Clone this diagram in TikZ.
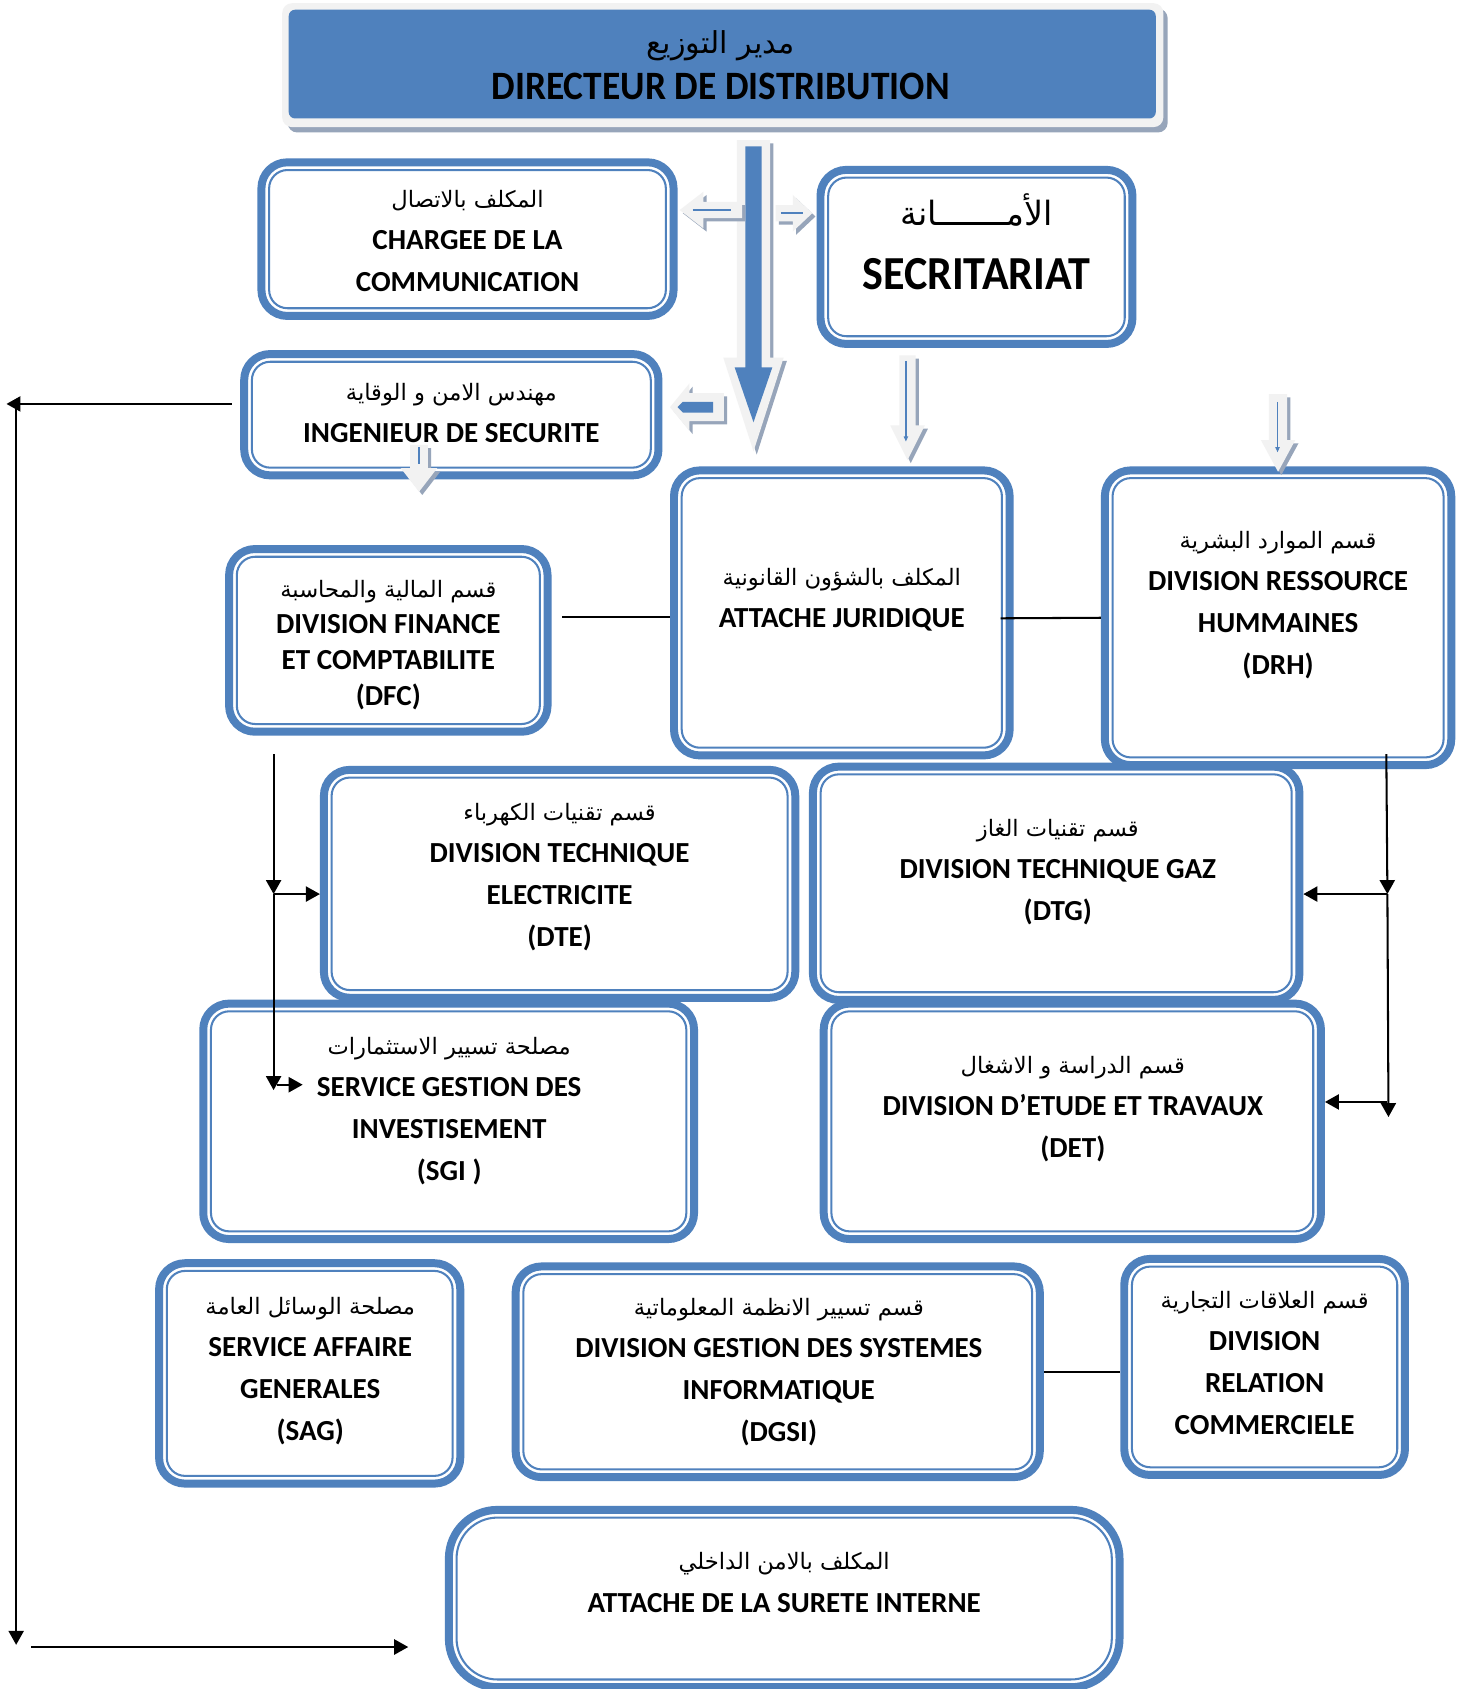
\documentclass[tikz,border=0pt]{standalone}
\usepackage{fontspec}
\usetikzlibrary{arrows.meta}
\setmainfont{Carlito}
\newfontfamily\condfont{Carlito}[FakeStretch=0.93]
\newfontfamily\arabicfont[Script=Arabic]{DejaVu Sans}
\TeXXeTstate=1

\definecolor{obBlue}{HTML}{4F81BD}
\definecolor{arLight}{HTML}{F2F2F2}
\definecolor{arShade}{HTML}{97A5BA}

% one Arabic line, set right to left
\newcommand\arline[2][21pt]{{\arabicfont\mdseries\fontsize{#1}{39pt}\selectfont\beginR #2\endR}}
% invisible strut: every text line gets the same height and depth
\newcommand\lnst[2]{\rule[-#2]{0pt}{\dimexpr#1+#2\relax}}
\newcommand\ls{\lnst{20pt}{8pt}}

% horizontal block arrow: tip x, axis y, head base x, head half, body half, tail x
\newcommand\shapeh[6]{(#1,#2) -- (#3,{#2-#4}) -- (#3,{#2-#5}) -- (#6,{#2-#5}) -- (#6,{#2+#5}) -- (#3,{#2+#5}) -- (#3,{#2+#4}) -- cycle}
% vertical block arrow: axis x, top y, shaft half, head base y, head half, tip y
\newcommand\shapev[6]{({#1-#3},#2) -- ({#1+#3},#2) -- ({#1+#3},#4) -- ({#1+#5},#4) -- (#1,#6) -- ({#1-#5},#4) -- ({#1-#3},#4) -- cycle}

% framed unit: name, left, top, right, bottom (outer edges)
\newcommand\orgframe[5]{%
  \node[unitframe={24pt}{17pt}, minimum width={#4-#2-7.4}, minimum height={#5-#3-7.4}]
    (#1) at ({(#2+#4)/2},{(#3+#5)/2}) {};}
% text of a unit: name, centre x, centre y, lines
\newcommand\orgtext[4]{\node[unittext] (#1-t) at (#2,{#3+3.5}) {#4};}

\begin{document}
\begin{tikzpicture}[x=1pt,y=-1pt,
  unitframe/.style 2 args={draw=obBlue, line width=7.4pt, rounded corners=#1, fill=white, inner sep=0pt,
    path picture={\draw[obBlue, line width=1.9pt, rounded corners=#2]
      ([shift={(7.15pt,-7.15pt)}]path picture bounding box.north west) rectangle
      ([shift={(-7.15pt,7.15pt)}]path picture bounding box.south east);}},
  unittext/.style={align=center, inner sep=0pt, font=\bfseries\fontsize{27pt}{39pt}\selectfont},
  conn/.style={line width=1.9pt, black},
  tipA/.style={-{Triangle[length=13pt,width=14pt]}},
  arrowshade/.style={fill=arShade, shift={(3,3)}},
  arrowbody/.style={fill=arLight},
]
\useasboundingbox (0,0) rectangle (1361,1568);
\fill[white] (0,0) rectangle (1361,1568);

% ---------- director ----------
\fill[arShade, rounded corners=9pt] (267,8) rectangle (1084,123);
\fill[arLight, rounded corners=9pt] (262,3) rectangle (1080,118);
\node[fill=obBlue, rounded corners=6pt, inner sep=0pt, minimum width=805, minimum height=101] (dir) at (670.5,59.5) {};
\node[inner sep=0pt, align=center, font=\condfont\bfseries\fontsize{37.4pt}{42.6pt}\selectfont] (dir-t) at (669,61)
  {\arline[28pt]{مدير التوزيع}\lnst{30pt}{10pt}\\ DIRECTEUR DE DISTRIBUTION\lnst{30pt}{10pt}};

% ---------- units ----------
\orgframe{chg}{239}{147}{629}{297}
\orgtext{chg}{434}{222.5}{\arline{المكلف بالاتصال}\ls\\ CHARGEE DE LA\ls\\ COMMUNICATION\ls}

\orgframe{sec}{758}{154}{1055}{323}
\node[inner sep=0pt, align=center, font=\condfont\bfseries\fontsize{44pt}{59pt}\selectfont] (sec-t) at (906.5,227)
  {\arline[31pt]{الأمـــــــانة}\lnst{34pt}{10pt}\\ SECRITARIAT\lnst{34pt}{10pt}};

\orgframe{ing}{223}{325}{615}{445}
\orgtext{ing}{419}{381.5}{\arline{مهندس الامن و الوقاية}\ls\\ INGENIEUR DE SECURITE\ls}

\orgframe{att}{622}{433}{941}{705}
\orgtext{att}{781.5}{554}{\arline{المكلف بالشؤون القانونية}\ls\\ ATTACHE JURIDIQUE\ls}

\orgframe{drh}{1022}{433}{1351}{714}
\orgtext{drh}{1186.5}{558}{\arline{قسم الموارد البشرية}\ls\\ DIVISION RESSOURCE\ls\\ HUMMAINES\ls\\ (DRH)\ls}

\orgframe{dfc}{209}{506}{512}{683}
\node[unittext, font=\bfseries\fontsize{27pt}{33.5pt}\selectfont] (dfc-t) at (360.5,599)
  {\arline{قسم المالية والمحاسبة}\ls\\ DIVISION FINANCE\ls\\ ET COMPTABILITE\ls\\ (DFC)\ls};

\orgframe{dte}{297}{711}{742}{930}
\orgtext{dte}{519.5}{811}{\arline{قسم تقنيات الكهرباء}\ls\\ DIVISION TECHNIQUE\ls\\ ELECTRICITE\ls\\ (DTE)\ls}

\orgframe{dtg}{751}{708}{1210}{932}
\orgtext{dtg}{982}{806.5}{\arline{قسم تقنيات الغاز}\ls\\ DIVISION TECHNIQUE GAZ\ls\\ (DTG)\ls}

\orgframe{sgi}{185}{928}{648}{1154}
\orgtext{sgi}{417}{1027.5}{\arline{مصلحة تسيير الاستثمارات}\ls\\ SERVICE GESTION DES\ls\\ INVESTISEMENT\ls\\ (SGI )\ls}

\orgframe{det}{761}{928}{1230}{1154}
\orgtext{det}{996}{1026.5}{\arline{قسم الدراسة و الاشغال}\ls\\ DIVISION D’ETUDE ET TRAVAUX\ls\\ (DET)\ls}

\orgframe{sag}{144}{1169}{431}{1381}
\orgtext{sag}{288}{1269}{\arline{مصلحة الوسائل العامة}\ls\\ SERVICE AFFAIRE\ls\\ GENERALES\ls\\ (SAG)\ls}

\orgframe{dgsi}{475}{1172}{969}{1375}
\orgtext{dgsi}{723}{1270}{\arline{قسم تسيير الانظمة المعلوماتية}\ls\\ DIVISION GESTION DES SYSTEMES\ls\\ INFORMATIQUE\ls\\ (DGSI)\ls}

\orgframe{drc}{1040}{1165}{1308}{1373}
\orgtext{drc}{1174}{1264}{\arline{قسم العلاقات التجارية}\ls\\ DIVISION\ls\\ RELATION\ls\\ COMMERCIELE\ls}

\node[unitframe={45pt}{38pt}, minimum width=622.6, minimum height=164.6] (sur) at (728,1484) {};
\orgtext{sur}{728}{1467.5}{\arline{المكلف بالامن الداخلي}\ls\\ ATTACHE DE LA SURETE INTERNE\ls}

% ---------- block arrows ----------
% main trunk from the director
\fill[arrowshade] \shapev{699.5}{130}{15.5}{332}{28}{419};
\fill[arrowbody]  \shapev{699.5}{130}{15.5}{332}{28}{419};
\fill[obBlue]     \shapev{699.5}{136}{7.5}{341}{17.5}{392};
% towards the communication officer
\fill[arrowshade] \shapeh{631}{195}{653}{17}{7.5}{689};
\fill[arrowbody]  \shapeh{631}{195}{653}{17}{7.5}{689};
\draw[obBlue, line width=1.5pt] (643,195) -- (679,195);
% towards the secretariat
\fill[arrowshade] \shapeh{754}{198}{736}{17}{7.5}{720};
\fill[arrowbody]  \shapeh{754}{198}{736}{17}{7.5}{720};
\draw[obBlue, line width=1.5pt] (725,198) -- (745,198);
% towards the safety engineer
\fill[arrowshade] \shapeh{622}{378}{640}{22}{13}{672};
\fill[arrowbody]  \shapeh{622}{378}{640}{22}{13}{672};
\fill[obBlue]     \shapeh{629}{378}{634}{5}{5}{662};
% secretariat down
\fill[arrowshade] \shapev{842.5}{330}{7.5}{395}{16}{427};
\fill[arrowbody]  \shapev{842.5}{330}{7.5}{395}{16}{427};
\draw[obBlue, line width=1.3pt, -{Triangle[length=5pt,width=4pt]}] (841,335) -- (841,410);
% above the human resources division
\fill[arrowshade] \shapev{1186.5}{366}{8.5}{408.5}{16}{438};
\fill[arrowbody]  \shapev{1186.5}{366}{8.5}{408.5}{16}{438};
\draw[obBlue, line width=1.3pt, -{Triangle[length=5pt,width=4pt]}] (1186,373) -- (1186,420);
% below the safety engineer
\fill[arrowshade] \shapev{389}{413}{8.2}{434.5}{17}{456.5};
\fill[arrowbody]  \shapev{389}{413}{8.2}{434.5}{17}{456.5};
\draw[obBlue, line width=1.3pt] (389,415) -- (389,431);

% ---------- plain links ----------
\draw[conn] ([shift={(10pt,21.5pt)}]dfc.east) -- ([yshift=-4pt]att.west);
\draw[conn] ([shift={(-12pt,-5pt)}]att.east) -- (drh.west);
\draw[conn] (dgsi.east) -- (dgsi.east -| drc.west);

% left trunk
\coordinate (lt0) at (254,700);
\coordinate (lt1) at (254,830);
\coordinate (lt2) at (254,1012);
\coordinate (lb2) at (257,1007);
\coordinate (lb2e) at (281,1007);
\draw[conn, tipA] (lt0) -- (lt1);
\draw[conn, tipA] (lt1) -- (lt2);
\draw[conn, tipA] (lt1) -- (lt1 -| dte.west);
\draw[conn, tipA] (lb2) -- (lb2e);

% right trunk
\coordinate (rt0) at (1287,700);
\coordinate (rt1) at (1288,830);
\coordinate (rt2) at (1289,1037);
\coordinate (rb2) at (1288,1023);
\draw[conn, tipA] (rt0) -- (rt1);
\draw[conn, tipA] (rt1) -- (rt2);
\draw[conn, tipA] (rt1) -- (rt1 -| dtg.east);
\draw[conn, tipA] (rb2) -- (rb2 -| det.east);

% outer loop on the left
\coordinate (fa0) at (215,375);
\coordinate (fa1) at (6,375);
\coordinate (fv0) at (15,379);
\coordinate (fv1) at (15,1527);
\coordinate (fb0) at (29,1529);
\coordinate (fb1) at (379,1529);
\draw[conn, tipA] (fa0) -- (fa1);
\draw[conn, tipA] (fv0) -- (fv1);
\draw[conn, tipA] (fb0) -- (fb1);
\end{tikzpicture}
\end{document}
